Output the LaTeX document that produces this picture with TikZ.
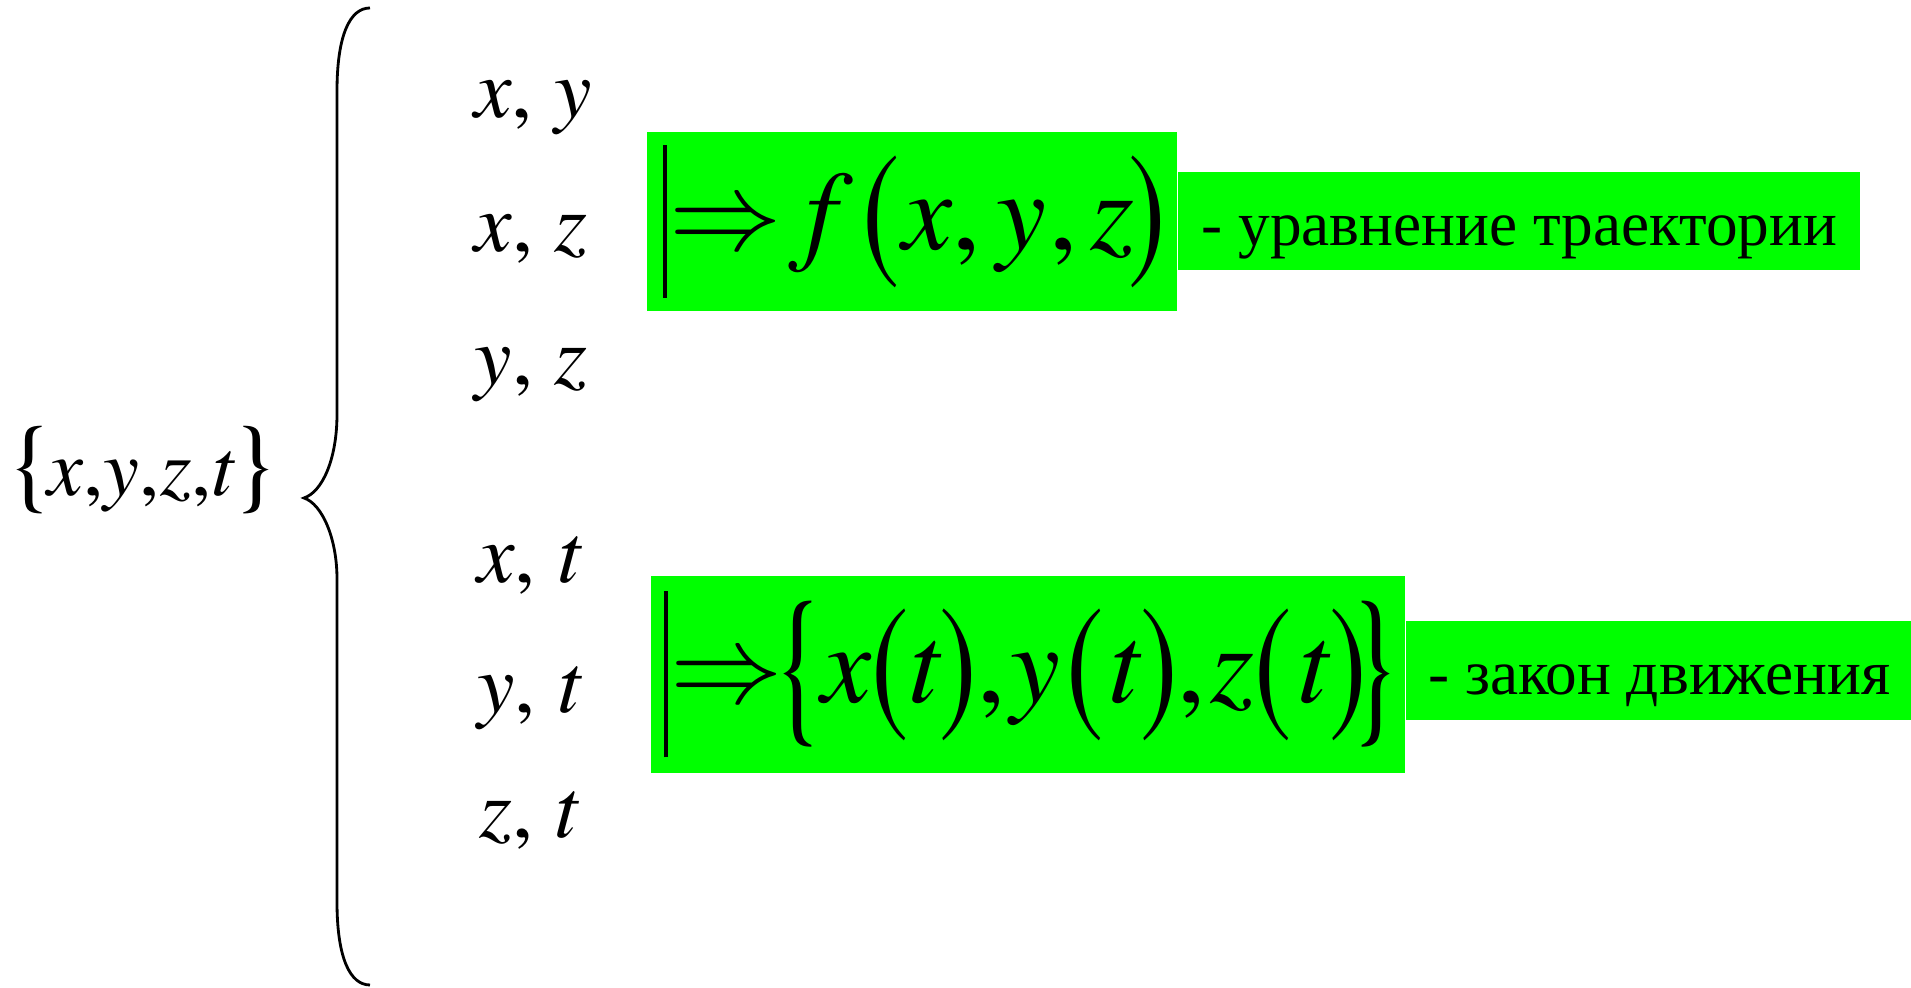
\documentclass[tikz,border=0pt]{standalone}
\usepackage{fix-cm}
\usepackage{amsmath}
\usepackage{graphicx}
\usepackage{fontspec}
\setmainfont{Liberation Serif}
\newfontfamily\termes{texgyretermes}[Extension=.otf, UprightFont=*-regular, ItalicFont=*-italic, BoldFont=*-bold, BoldItalicFont=*-bolditalic]
\usetikzlibrary{positioning}

\definecolor{boxgreen}{RGB}{0,255,0}
% italic variable, stretched delimiter and bar (centred on the math axis)
\newcommand{\vv}[1]{\mbox{\termes\itshape #1}}
\newcommand{\tallp}[2]{\vcenter{\hbox{\scalebox{1}[#1]{#2}}}}
\newcommand{\vbar}[1]{\vcenter{\hbox{\rule{1pt}{#1}}}}
\newcommand{\bigimp}{\mathord{\Rightarrow}}

\begin{document}
\begin{tikzpicture}[
  pair/.style={anchor=base, font=\termes\fontsize{24}{28}\selectfont},
  formula/.style={fill=boxgreen, inner sep=0pt, font=\termes\fontsize{32}{38}\selectfont},
  note/.style={fill=boxgreen, inner sep=0pt, text height=0.62cm, text depth=0.14cm, font=\fontsize{18}{22}\selectfont}]

  \useasboundingbox (0,0) rectangle (19.11,9.88);

  % ===== Left: the set of variables =====
  \node[anchor=base, font=\termes\fontsize{23}{27}\selectfont] (vars) at (1.43,4.92)
    {{\fontsize{29}{34}\selectfont\{}\hspace{-0.08cm}\vv{x},\vv{y},\vv{z},\vv{t}\hspace{-0.04cm}{\fontsize{29}{34}\selectfont\}}};

  % Big brace
  \draw[line width=0.8pt] (3.70,9.80) .. controls (3.50,9.80) and (3.37,9.53) .. (3.37,8.97)
    -- (3.37,5.74) .. controls (3.37,5.28) and (3.22,4.96) .. (3.04,4.90)
    .. controls (3.22,4.84) and (3.37,4.50) .. (3.37,4.09)
    -- (3.37,0.86) .. controls (3.37,0.30) and (3.50,0.03) .. (3.70,0.03);

  % ===== Pairs of variables =====
  \node[pair] (p1) at (5.33,8.70) {\vv{x}, \vv{y}};
  \node[pair] (p2) at (5.31,7.36) {\vv{x}, \vv{z}};
  \node[pair] (p3) at (5.31,6.03) {\vv{y}, \vv{z}};
  \node[pair] (p4) at (5.29,4.05) {\vv{x}, \vv{t}};
  \node[pair] (p5) at (5.29,2.75) {\vv{y}, \vv{t}};
  \node[pair] (p6) at (5.29,1.50) {\vv{z}, \vv{t}};

  % ===== Trajectory =====
  \node[formula, minimum width=5.30cm, minimum height=1.79cm] (traj) at (9.12,7.665)
    {$\vbar{1.53cm}\hspace{0.03cm}\bigimp\hspace{0.24cm}\vv{f}\hspace{0.25cm}\tallp{1.376}{(}\hspace{0.03cm}\vv{x}\mbox{,}\hspace{0.16cm}\vv{y}\hspace{0.03cm}\mbox{,}\hspace{0.13cm}\vv{z}\hspace{-0.06cm}\tallp{1.376}{)}\hspace{-0.05cm}$};
  \node[note, minimum width=6.82cm, minimum height=0.98cm, right=0pt of traj] (lab1)
    {- уравнение траектории};

  % ===== Law of motion =====
  \node[formula, minimum width=7.54cm, minimum height=1.97cm] (law) at (10.28,3.135)
    {$\vbar{1.66cm}\hspace{0.03cm}\bigimp\hspace{-0.11cm}\tallp{1.51}{\{}\hspace{-0.05cm}\vv{x}\tallp{1.376}{(}\vv{t}\tallp{1.376}{)}\mbox{,}\hspace{0.05cm}\vv{y}\hspace{0.06cm}\tallp{1.376}{(}\hspace{0.05cm}\vv{t}\tallp{1.376}{)}\mbox{,}\hspace{0.05cm}\vv{z}\tallp{1.376}{(}\hspace{0.06cm}\vv{t}\tallp{1.376}{)}\hspace{-0.19cm}\tallp{1.51}{\}}\hspace{-0.1cm}$};
  \node[note, minimum width=5.06cm, minimum height=0.99cm, right=0pt of law, yshift=0.04cm] (lab2)
    {- закон движения};

\end{tikzpicture}
\end{document}
